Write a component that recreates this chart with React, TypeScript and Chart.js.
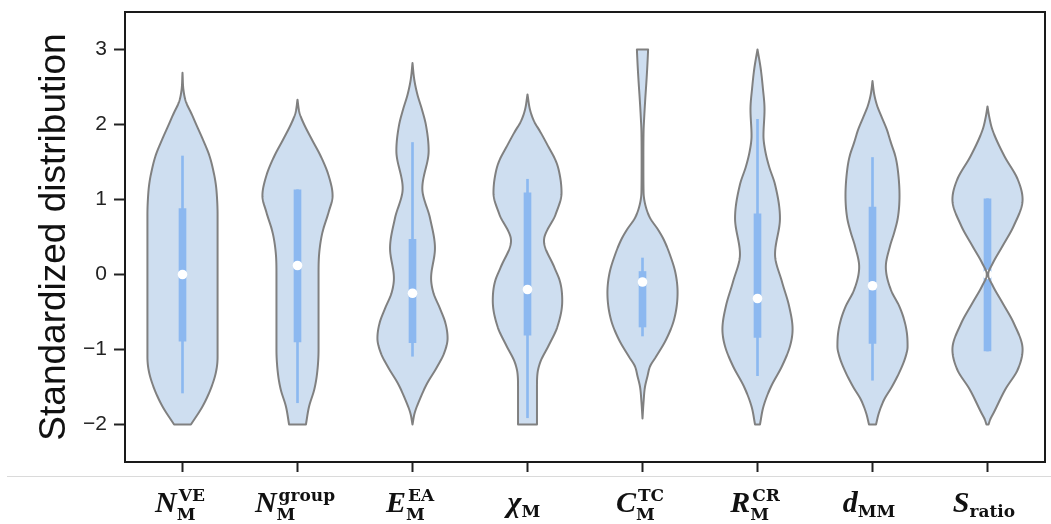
import React, { useEffect, useRef } from "react";
import { Chart, registerables } from "chart.js";

Chart.register(...registerables);

// ---- categories & tick labels ----
const CATEGORIES = ["N_M^VE", "N_M^group", "E_M^EA", "χ_M", "C_M^TC", "R_M^CR", "d_MM", "S_ratio"];
const LABEL_BASE = ["N", "N", "E", "χ", "C", "R", "d", "S"];
const LABEL_SUB = ["M", "M", "M", "M", "M", "M", "MM", "ratio"];
const LABEL_SUP = ["VE", "group", "EA", "", "TC", "CR", "", ""];
const Y_TICKS = [-2, -1, 0, 1, 2, 3];
const Y_TITLE = "Standardized distribution";

// ---- box-plot statistics ----
const MEDIANS = [0.0, 0.12, -0.25, -0.2, -0.1, -0.32, -0.15, 0.0];
const Q1 = [-0.89, -0.9, -0.91, -0.81, -0.7, -0.84, -0.92, -1.02];
const Q3 = [0.88, 1.13, 0.47, 1.09, 0.04, 0.81, 0.9, 1.01];
const WHISKER_LOW = [-1.58, -1.71, -1.09, -1.91, -0.82, -1.35, -1.41, -1.02];
const WHISKER_HIGH = [1.58, 1.13, 1.76, 1.27, 0.22, 2.07, 1.56, 1.01];

// ---- violin density profiles (value levels, relative density) ----
const V1_Y = [-2.0, -1.76, -1.53, -1.31, -1.1, -0.8, 0, 0.8, 1.05, 1.2, 1.36, 1.58, 1.8, 2.0, 2.15, 2.3, 2.45, 2.69];
const V1_D = [0.24, 0.57, 0.8, 0.95, 1.0, 1.0, 1.0, 1.0, 0.98, 0.95, 0.89, 0.77, 0.58, 0.39, 0.25, 0.1, 0.03, 0];

const V2_Y = [-2.0, -1.76, -1.53, -1.31, -1.0, -0.5, 0.0, 0.29, 0.56, 0.82, 1.05, 1.3, 1.58, 1.8, 2.02, 2.15, 2.33];
const V2_D = [0.24, 0.33, 0.48, 0.56, 0.6, 0.6, 0.6, 0.62, 0.71, 0.88, 1.0, 0.9, 0.66, 0.41, 0.17, 0.06, 0];

const V3_Y = [-2.0, -1.85, -1.65, -1.45, -1.25, -1.05, -0.85, -0.65, -0.45, -0.25, -0.05, 0.35, 0.75, 1.15, 1.65, 2.0, 2.2, 2.4, 2.6, 2.82];
const V3_D = [0, 0.06, 0.22, 0.42, 0.68, 0.9, 1.0, 0.94, 0.78, 0.6, 0.53, 0.64, 0.5, 0.28, 0.46, 0.38, 0.27, 0.14, 0.05, 0];

const V4_Y = [-2.0, -1.5, -1.3, -1.15, -0.95, -0.7, -0.35, -0.1, 0.1, 0.45, 0.8, 1.09, 1.3, 1.5, 1.7, 1.89, 2.05, 2.2, 2.4];
const V4_D = [0.27, 0.27, 0.29, 0.38, 0.6, 0.85, 0.99, 0.93, 0.76, 0.47, 0.8, 0.97, 0.93, 0.82, 0.6, 0.38, 0.18, 0.07, 0];

const V5_Y = [-1.92, -1.7, -1.5, -1.36, -1.22, -1.1, -0.87, -0.6, -0.24, 0.02, 0.24, 0.47, 0.6, 0.75, 0.91, 1.1, 1.5, 1.9, 2.11, 2.35, 2.56, 2.8, 3.0];
const V5_D = [0, 0.03, 0.07, 0.14, 0.22, 0.38, 0.67, 0.9, 1.0, 0.94, 0.8, 0.6, 0.44, 0.22, 0.09, 0.03, 0.025, 0.03, 0.05, 0.08, 0.11, 0.14, 0.16];

const V6_Y = [-2.0, -1.76, -1.5, -1.22, -0.95, -0.73, -0.42, -0.1, 0.27, 0.75, 1.2, 1.44, 1.65, 1.85, 2.2, 2.5, 2.75, 3.0];
const V6_D = [0.07, 0.17, 0.38, 0.7, 0.93, 1.0, 0.9, 0.7, 0.5, 0.64, 0.5, 0.33, 0.22, 0.17, 0.2, 0.15, 0.09, 0];

const V7_Y = [-2.0, -1.85, -1.67, -1.5, -1.31, -1.1, -0.96, -0.78, -0.6, -0.42, -0.2, 0.1, 0.38, 0.56, 0.75, 1.05, 1.4, 1.58, 1.75, 1.93, 2.1, 2.24, 2.4, 2.58];
const V7_D = [0.1, 0.18, 0.33, 0.55, 0.76, 0.94, 1.0, 0.98, 0.9, 0.76, 0.52, 0.38, 0.5, 0.62, 0.72, 0.77, 0.72, 0.65, 0.53, 0.41, 0.26, 0.14, 0.05, 0];

const V8_Y = [-2.0, -1.93, -1.84, -1.53, -1.27, -1.0, -0.65, -0.38, -0.15, 0.0, 0.15, 0.38, 0.65, 1.0, 1.27, 1.58, 1.93, 2.1, 2.24];
const V8_D = [0.03, 0.08, 0.18, 0.51, 0.86, 1.0, 0.75, 0.43, 0.15, 0.02, 0.15, 0.43, 0.75, 1.0, 0.86, 0.48, 0.14, 0.05, 0];

const VIOLIN_Y = [V1_Y, V2_Y, V3_Y, V4_Y, V5_Y, V6_Y, V7_Y, V8_Y];
const VIOLIN_D = [V1_D, V2_D, V3_D, V4_D, V5_D, V6_D, V7_D, V8_D];

// ---- styles ----
const VIOLIN_HALF_WIDTH = 0.305; // in category units
const VIOLIN_FILL = "rgb(206,222,240)";
const VIOLIN_EDGE = "rgb(128,128,128)";
const BOX_COLOR = "rgb(140,184,240)";

// monotone cubic (Fritsch-Carlson) evaluation of d(y) for smooth rendering
function monotoneCurve(xs: number[], ys: number[]) {
  const n = xs.length;
  const dx: number[] = [];
  const s: number[] = [];
  for (let i = 0; i < n - 1; i++) {
    dx.push(xs[i + 1] - xs[i]);
    s.push((ys[i + 1] - ys[i]) / (xs[i + 1] - xs[i]));
  }
  const m: number[] = new Array(n).fill(0);
  m[0] = s[0];
  m[n - 1] = s[n - 2];
  for (let i = 1; i < n - 1; i++) {
    if (s[i - 1] * s[i] <= 0) m[i] = 0;
    else m[i] = (s[i - 1] + s[i]) / 2;
  }
  for (let i = 0; i < n - 1; i++) {
    if (s[i] === 0) {
      m[i] = 0;
      m[i + 1] = 0;
      continue;
    }
    const a = m[i] / s[i];
    const b = m[i + 1] / s[i];
    const h = a * a + b * b;
    if (h > 9) {
      const t = 3 / Math.sqrt(h);
      m[i] = t * a * s[i];
      m[i + 1] = t * b * s[i];
    }
  }
  return (x: number) => {
    let i = 0;
    while (i < n - 2 && x > xs[i + 1]) i++;
    const h = dx[i];
    const t = Math.min(1, Math.max(0, (x - xs[i]) / h));
    const t2 = t * t;
    const t3 = t2 * t;
    return (
      (2 * t3 - 3 * t2 + 1) * ys[i] +
      (t3 - 2 * t2 + t) * h * m[i] +
      (-2 * t3 + 3 * t2) * ys[i + 1] +
      (t3 - t2) * h * m[i + 1]
    );
  };
}

function drawViolins(chart: any, mode: "fill" | "stroke") {
  const ctx: CanvasRenderingContext2D = chart.ctx;
  const xs = chart.scales.x;
  const ys = chart.scales.y;
  ctx.save();
  for (let i = 0; i < VIOLIN_Y.length; i++) {
    const cx = xs.getPixelForValue(i);
    const hw = xs.getPixelForValue(i + VIOLIN_HALF_WIDTH) - cx;
    const yv = VIOLIN_Y[i];
    const f = monotoneCurve(yv, VIOLIN_D[i]);
    const y0 = yv[0];
    const y1 = yv[yv.length - 1];
    const steps = Math.max(2, Math.ceil(Math.abs(ys.getPixelForValue(y1) - ys.getPixelForValue(y0))));
    const right: number[][] = [];
    for (let k = 0; k <= steps; k++) {
      const v = y0 + ((y1 - y0) * k) / steps;
      const d = Math.max(0, f(v));
      right.push([cx + d * hw, ys.getPixelForValue(v)]);
    }
    ctx.beginPath();
    ctx.moveTo(right[0][0], right[0][1]);
    for (let k = 1; k < right.length; k++) ctx.lineTo(right[k][0], right[k][1]);
    for (let k = right.length - 1; k >= 0; k--) ctx.lineTo(2 * cx - right[k][0], right[k][1]);
    ctx.closePath();
    if (mode === "fill") {
      ctx.fillStyle = VIOLIN_FILL;
      ctx.fill();
    } else {
      ctx.strokeStyle = VIOLIN_EDGE;
      ctx.lineWidth = 2;
      ctx.lineJoin = "round";
      ctx.stroke();
    }
  }
  ctx.restore();
}

const violinPlugin = {
  id: "violinPlugin",
  beforeDatasetsDraw(chart: any) {
    drawViolins(chart, "fill");
  },
  afterDatasetsDraw(chart: any) {
    drawViolins(chart, "stroke");
  },
  afterDraw(chart: any) {
    const ctx: CanvasRenderingContext2D = chart.ctx;
    const area = chart.chartArea;
    const xs = chart.scales.x;
    ctx.save();
    // frame
    ctx.strokeStyle = "#1a1a1a";
    ctx.lineWidth = 2;
    ctx.strokeRect(area.left, area.top, area.right - area.left, area.bottom - area.top);
    // faint separator line
    ctx.strokeStyle = "#dadada";
    ctx.lineWidth = 1;
    ctx.beginPath();
    ctx.moveTo(7, 476.5);
    ctx.lineTo(chart.width, 476.5);
    ctx.stroke();
    // y title
    ctx.save();
    ctx.translate(65, 237);
    ctx.rotate(-Math.PI / 2);
    ctx.font = '37px "Liberation Sans", Arial, sans-serif';
    ctx.fillStyle = "#111";
    ctx.textAlign = "center";
    ctx.textBaseline = "alphabetic";
    ctx.fillText(Y_TITLE, 0, 0);
    ctx.restore();
    // x labels with sub/superscripts
    const baseFont = 'italic bold 30px "Liberation Serif", serif';
    const scriptFont = 'bold 17px "DejaVu Serif", serif';
    ctx.fillStyle = "#111";
    ctx.textAlign = "left";
    ctx.textBaseline = "alphabetic";
    for (let i = 0; i < CATEGORIES.length; i++) {
      const cx = xs.getPixelForValue(i);
      ctx.font = baseFont;
      const wb = ctx.measureText(LABEL_BASE[i]).width;
      ctx.font = scriptFont;
      const wsub = ctx.measureText(LABEL_SUB[i]).width;
      const wsup = LABEL_SUP[i] ? ctx.measureText(LABEL_SUP[i]).width : 0;
      const total = wb + 1 + Math.max(wsub, wsup);
      const x0 = cx - total / 2 - 3;
      ctx.font = baseFont;
      ctx.fillText(LABEL_BASE[i], x0, 512);
      ctx.font = scriptFont;
      ctx.fillText(LABEL_SUB[i], x0 + wb, LABEL_SUP[i] ? 520 : 517);
      if (LABEL_SUP[i]) ctx.fillText(LABEL_SUP[i], x0 + wb + 2, 501);
    }
    ctx.restore();
  },
};

export default function App() {
  const canvasRef = useRef<HTMLCanvasElement | null>(null);

  useEffect(() => {
    if (!canvasRef.current) return;
    const boxData = Q1.map((q, i) => [q, Q3[i]]);
    const whiskerData = WHISKER_LOW.map((w, i) => [w, WHISKER_HIGH[i]]);
    const chart = new Chart(canvasRef.current, {
      type: "bar",
      data: {
        labels: CATEGORIES,
        datasets: [
          {
            type: "line",
            label: "median",
            data: MEDIANS,
            showLine: false,
            pointRadius: 4.8,
            pointBackgroundColor: "#ffffff",
            pointBorderColor: "#ffffff",
            pointBorderWidth: 0,
            order: 0,
          } as any,
          {
            label: "IQR",
            data: boxData as any,
            backgroundColor: BOX_COLOR,
            borderWidth: 0,
            barThickness: 7,
            grouped: false,
            order: 1,
          } as any,
          {
            label: "whisker",
            data: whiskerData as any,
            backgroundColor: BOX_COLOR,
            borderWidth: 0,
            barThickness: 2,
            grouped: false,
            order: 2,
          } as any,
        ],
      },
      options: {
        animation: false,
        responsive: false,
        events: [],
        layout: { padding: { top: 12, right: 6, left: 0, bottom: 0 } },
        plugins: { legend: { display: false }, tooltip: { enabled: false }, title: { display: false } },
        scales: {
          x: {
            type: "category",
            offset: true,
            border: { display: false },
            grid: {
              display: true,
              offset: false,
              drawOnChartArea: false,
              drawTicks: true,
              tickLength: 10,
              tickWidth: 2,
              tickColor: "#222",
            },
            ticks: { display: false },
            afterFit: (s: any) => {
              s.height = 62;
              s.paddingLeft = 0;
              s.paddingRight = 0;
            },
          },
          y: {
            type: "linear",
            min: -2.5,
            max: 3.5,
            border: { display: false },
            grid: {
              display: true,
              drawOnChartArea: false,
              drawTicks: true,
              tickLength: 11,
              tickWidth: 2,
              tickColor: "#222",
            },
            afterBuildTicks: (s: any) => {
              s.ticks = Y_TICKS.map((v) => ({ value: v }));
            },
            ticks: {
              includeBounds: false,
              padding: 7,
              color: "#222",
              font: { family: '"Liberation Sans", Arial, sans-serif', size: 21 },
              callback: (v: any) => (Number(v) < 0 ? "\u2212" + Math.abs(Number(v)) : String(v)),
            },
            afterFit: (s: any) => {
              s.width = 125;
              s.paddingTop = 0;
              s.paddingBottom = 0;
            },
          },
        },
      },
      plugins: [violinPlugin as any],
    });
    return () => chart.destroy();
  }, []);

  return (
    <div style={{ position: "fixed", left: 0, top: 0, width: 1051, height: 524, background: "#fff" }}>
      <canvas ref={canvasRef} width={1051} height={524} style={{ display: "block", width: 1051, height: 524 }} />
    </div>
  );
}
